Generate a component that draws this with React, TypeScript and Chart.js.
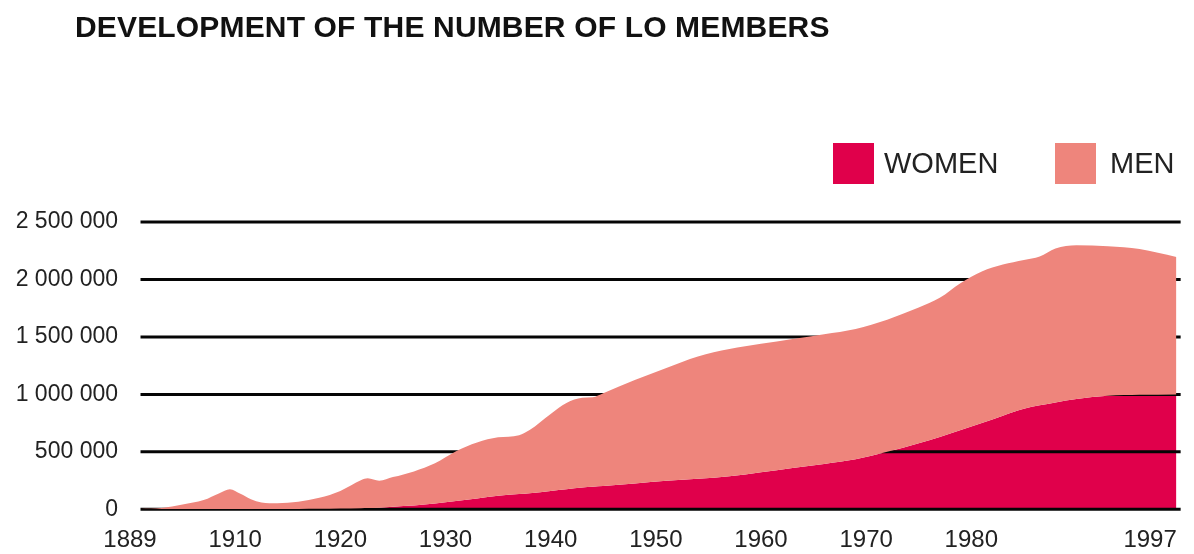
import React, { useEffect, useRef } from 'react';
import { Chart, registerables } from 'chart.js';

Chart.register(...registerables);

const TITLE = 'DEVELOPMENT OF THE NUMBER OF LO MEMBERS';
const SERIES_NAMES = ['WOMEN', 'MEN'];
const COLORS = ['#E0004B', '#EE857C'];

// Positions along the (schematic) time axis of the original graphic
const years = [
  1901, 1903, 1905, 1907, 1908.5, 1909.5, 1910.5, 1911.5, 1912.5, 1914, 1916, 1918, 1920,
  1922, 1922.6, 1923.7, 1925, 1927, 1929, 1931, 1933, 1935, 1937, 1938, 1940, 1941.5, 1943,
  1944, 1945, 1948, 1951, 1954, 1957, 1960, 1963, 1966, 1969, 1972, 1975, 1977, 1979, 1981,
  1983, 1985, 1986.5, 1988, 1990, 1993, 1996, 1999.5,
];

// Members (women)
const women = [
  0, 0, 0, 0, 1000, 1000, 1000, 1000, 2000, 2000, 3000, 4000, 6000,
  10000, 11000, 14000, 22000, 32000, 50000, 72000, 95000, 117000, 133000, 140000, 160000, 175000, 190000,
  197000, 203000, 225000, 248000, 265000, 287000, 322000, 360000, 395000, 435000, 500000, 575000, 630000, 690000, 750000,
  815000, 875000, 905000, 930000, 960000, 988000, 996000, 1000000,
];

// Members (men)
const men = [
  3000, 12000, 42000, 80000, 139000, 174000, 134000, 87000, 58000, 50000, 62000, 96000, 154000,
  245000, 259000, 235000, 258000, 298000, 350000, 433000, 487000, 509000, 512000, 550000, 670000, 750000, 780000,
  778000, 807000, 900000, 982000, 1065000, 1108000, 1118000, 1122000, 1129000, 1135000, 1150000, 1180000, 1210000, 1280000, 1320000,
  1315000, 1295000, 1295000, 1340000, 1338000, 1302000, 1269000, 1196000,
];

const yTicks = [0, 500000, 1000000, 1500000, 2000000, 2500000];
const xTickPositions = [1900, 1910, 1920, 1930, 1940, 1950, 1960, 1970, 1980, 1997];
const xTickLabels = ['1889', '1910', '1920', '1930', '1940', '1950', '1960', '1970', '1980', '1997'];

const FONT = '"Liberation Sans", Arial, Helvetica, sans-serif';

function fmt(v: number): string {
  return String(v).replace(/\B(?=(\d{3})+(?!\d))/g, ' ');
}

const gridOverWomen = {
  id: 'gridOverWomen',
  afterDatasetDraw(chart: any, args: any) {
    if (args.index !== 0) return;
    const { ctx, chartArea, scales } = chart;
    const x0 = scales.x.getPixelForValue(years[0]);
    const x1 = chartArea.right - 1;
    ctx.save();
    ctx.strokeStyle = '#050505';
    ctx.lineWidth = 3;
    for (const v of yTicks) {
      const y = scales.y.getPixelForValue(v);
      ctx.beginPath();
      ctx.moveTo(x0, y);
      ctx.lineTo(x1, y);
      ctx.stroke();
    }
    ctx.restore();
  },
};

export default function App() {
  const canvasRef = useRef<HTMLCanvasElement | null>(null);

  useEffect(() => {
    const canvas = canvasRef.current;
    if (!canvas) return;
    const womenPts = years.map((x, i) => ({ x, y: women[i] }));
    const totalPts = years.map((x, i) => ({ x, y: women[i] + men[i] }));

    const chart = new Chart(canvas, {
      type: 'line',
      data: {
        datasets: [
          {
            label: SERIES_NAMES[0],
            data: womenPts,
            backgroundColor: COLORS[0],
            borderColor: 'rgba(0,0,0,0)',
            borderWidth: 0,
            pointRadius: 0,
            fill: 'origin',
            cubicInterpolationMode: 'monotone',
            order: 1,
          },
          {
            label: SERIES_NAMES[1],
            data: totalPts,
            backgroundColor: COLORS[1],
            borderColor: 'rgba(0,0,0,0)',
            borderWidth: 0,
            pointRadius: 0,
            fill: '-1',
            cubicInterpolationMode: 'monotone',
            order: 0,
          },
        ],
      },
      options: {
        animation: false,
        responsive: false,
        events: [],
        layout: { padding: { top: 222, right: 7, bottom: 0, left: 0 } },
        plugins: {
          legend: { display: false },
          tooltip: { enabled: false },
          title: { display: false },
        },
        scales: {
          x: {
            type: 'linear',
            min: 1900,
            max: 2000,
            grid: { display: false, drawTicks: false },
            border: { display: false },
            afterBuildTicks: (scale: any) => {
              scale.ticks = xTickPositions.map((v) => ({ value: v }));
            },
            afterFit: (scale: any) => {
              scale.height = 44.7;
            },
            ticks: {
              autoSkip: false,
              maxRotation: 0,
              padding: 17,
              color: '#222',
              font: { family: FONT, size: 24 },
              callback: (value: any) => {
                const i = xTickPositions.indexOf(Number(value));
                return i >= 0 ? xTickLabels[i] : '';
              },
            },
          },
          y: {
            type: 'linear',
            min: 0,
            max: 2500000,
            grid: { display: false, drawTicks: false },
            border: { display: false },
            afterBuildTicks: (scale: any) => {
              scale.ticks = yTicks.map((v) => ({ value: v }));
            },
            afterFit: (scale: any) => {
              scale.width = 130;
            },
            ticks: {
              padding: 12,
              color: '#222',
              font: { family: FONT, size: 23 },
              callback: (value: any) => fmt(Number(value)),
            },
          },
        },
      },
      plugins: [gridOverWomen],
    } as any);

    return () => chart.destroy();
  }, []);

  const legendText: React.CSSProperties = {
    position: 'absolute',
    top: 148.5,
    fontFamily: FONT,
    fontSize: 29,
    lineHeight: '29px',
    color: '#222',
    whiteSpace: 'nowrap',
  };

  return (
    <div
      style={{
        position: 'fixed',
        left: 0,
        top: 0,
        width: 1194,
        height: 554,
        background: '#fff',
        overflow: 'hidden',
      }}
    >
      <canvas
        ref={canvasRef}
        width={1194}
        height={554}
        style={{ position: 'absolute', left: 0, top: 0, width: 1194, height: 554, display: 'block' }}
      />
      <div
        style={{
          position: 'absolute',
          left: 75,
          top: 12,
          fontFamily: FONT,
          fontWeight: 'bold',
          fontSize: 30,
          lineHeight: '30px',
          letterSpacing: '0.16px',
          color: '#111',
          whiteSpace: 'nowrap',
        }}
      >
        {TITLE}
      </div>
      <div style={{ position: 'absolute', left: 833, top: 143, width: 41, height: 41, background: COLORS[0] }} />
      <div style={{ ...legendText, left: 884 }}>{SERIES_NAMES[0]}</div>
      <div style={{ position: 'absolute', left: 1055, top: 143, width: 41, height: 41, background: COLORS[1] }} />
      <div style={{ ...legendText, left: 1110 }}>{SERIES_NAMES[1]}</div>
    </div>
  );
}
